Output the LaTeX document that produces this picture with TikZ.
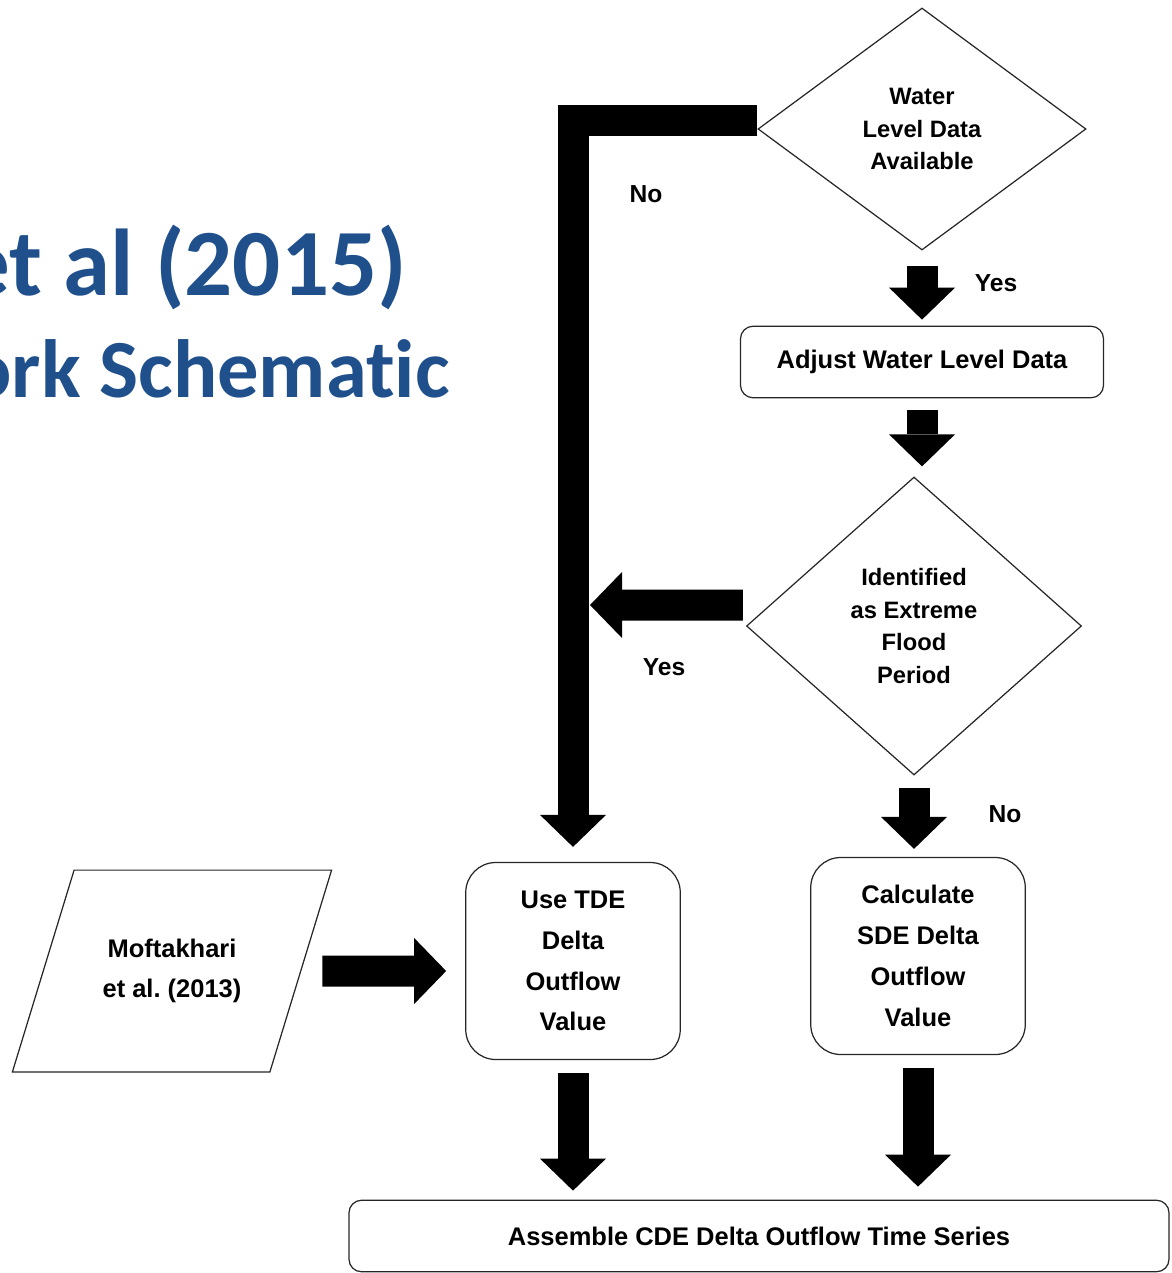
\documentclass[tikz,border=0pt]{standalone}
\usepackage{fontspec}
\setmainfont{Liberation Sans}
\newfontfamily\headfont{Carlito}[Ligatures=NoCommon]
\usetikzlibrary{shapes.geometric, arrows.meta}
\definecolor{headblue}{RGB}{31,80,140}

\tikzstyle{decision} = [diamond, draw=black!85, line width=0.7pt, align=center, inner sep=1pt, font=\fontsize{13.5}{18.7}\selectfont\bfseries]
\tikzstyle{process} = [rectangle, rounded corners=0.6cm, draw=black!85, line width=0.7pt, align=center, minimum width=4.29cm, minimum height=3.94cm, font=\fontsize{14.5}{23.2}\selectfont\bfseries]
\tikzstyle{strip} = [rectangle, rounded corners=0.25cm, draw=black!85, line width=0.7pt, minimum height=1.43cm, font=\fontsize{14.5}{17}\selectfont\bfseries]
\tikzstyle{io} = [trapezium, trapezium left angle=73, trapezium right angle=107, draw=black!85, line width=0.7pt, inner xsep=0.57cm, inner ysep=1.385cm, align=center, font=\fontsize{14.5}{22.5}\selectfont\bfseries]
\tikzstyle{word} = [font=\fontsize{14}{17}\selectfont\bfseries]
\tikzstyle{fat} = [line width=0.62cm, -{Triangle[length=0.64cm, width=1.32cm, line width=0pt]}, shorten <=0.26cm, shorten >=0.18cm]
\tikzstyle{head} = [text=headblue, inner sep=0pt, font=\headfont\bfseries\fontsize{54}{58}\selectfont]

\begin{document}
\begin{tikzpicture}

\useasboundingbox (0,0) rectangle (23.44,-25.46);
\clip (0,0) rectangle (23.44,-25.46);

%title
\node (t1) [head, anchor=base east] at (8.14,-5.90) {et al (2015)};
\node (t2) [head, anchor=base east, font=\headfont\bfseries\fontsize{47}{51}\selectfont] at (9.00,-7.94) {ork Schematic};

%nodes
\node (1) [decision, minimum width=6.56cm, minimum height=4.84cm] at (18.44,-2.58) {Water \\ Level Data \\ Available};
\node (2) [strip, minimum width=7.26cm, below of=1, yshift=-3.66cm] {Adjust Water Level Data};
\node (3) [decision, minimum width=6.7cm, minimum height=5.96cm, below of=2, xshift=-0.16cm, yshift=-4.28cm] {Identified \\ as Extreme \\ Flood \\ Period};
\node (4) [process, below of=3, xshift=0.08cm, yshift=-5.6cm] {Calculate \\ SDE Delta \\ Outflow \\ Value};
\node (5) [process, left of=4, xshift=-5.9cm, yshift=-0.1cm] {Use TDE \\ Delta \\ Outflow \\ Value};
\node (6) [io, left of=5, xshift=-7.02cm, yshift=-0.2cm] {Moftakhari \\ et al.\ (2013)};
\node (7) [strip, minimum width=16.4cm, below of=4, xshift=-3.18cm, yshift=-4.6cm] {Assemble CDE Delta Outflow Time Series};
\coordinate (8) at (11.80,-12.10);

%labels
\node (9) [word] at (12.92,-3.88) {No};
\node (10) [word] at (19.92,-5.66) {Yes};
\node (11) [word] at (13.28,-13.34) {Yes};
\node (12) [word] at (20.10,-16.28) {No};

%arrows
\draw [fat, shorten <=0pt, shorten >=0.3cm] ([yshift=0.16cm]1.west) -| (5.north);
\draw [fat, shorten <=0.3cm, shorten >=0.12cm] (1) -- (1 |- 2.north);
\draw [fat, shorten <=0.24cm, shorten >=0.2cm] (2) -- (2 |- 3.north);
\draw [fat, shorten <=0.06cm, shorten >=0pt] ([yshift=0.42cm]3.west) -- (8);
\draw [fat, shorten <=0.24cm, shorten >=0.16cm] (3) -- (3 |- 4.north);
\draw [fat, shorten <=0.42cm, shorten >=0.38cm] (6) -- (6 -| 5.west);
\draw [fat] (5) -- (5 |- 7.north);
\draw [fat, shorten >=0.26cm] (4) -- (4 |- 7.north);

\end{tikzpicture}
\end{document}
